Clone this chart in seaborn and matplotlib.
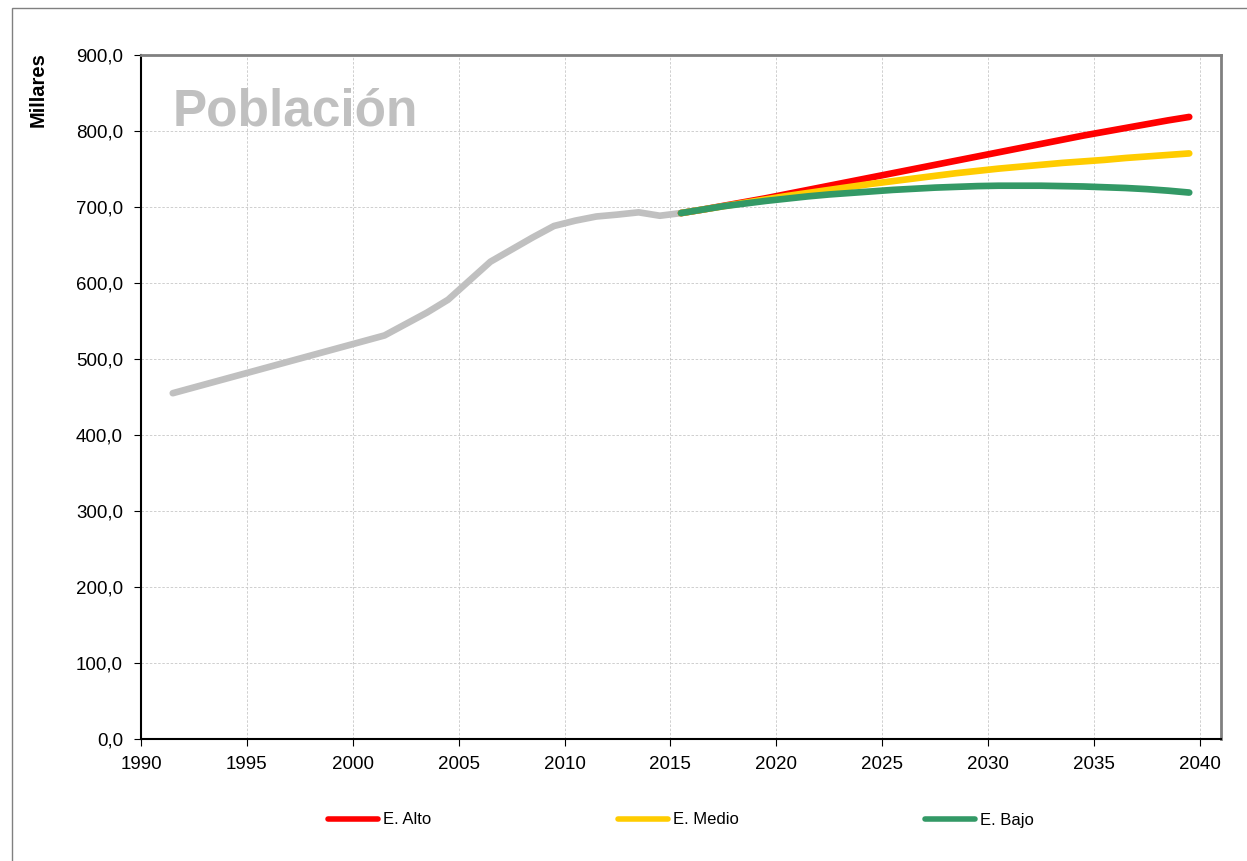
import matplotlib
matplotlib.use("Agg")
import matplotlib.pyplot as plt
import seaborn as sns
from matplotlib.ticker import FuncFormatter, MultipleLocator
from matplotlib.patches import Rectangle

# historic population (thousands)
hist_years = [1991.5, 1996.5, 2001.5, 2002.5, 2003.5, 2004.5, 2005.5, 2006.5, 2007.5,
              2008.5, 2009.5, 2010.5, 2011.5, 2012.5, 2013.5, 2014.5, 2015.5]
hist_pop = [455, 493, 531, 546, 561, 578, 603, 628, 644,
            660, 675, 682, 687.5, 690, 693, 688.5, 692]

# projections 2015.5 .. 2039.5
proj_years = [2015.5, 2016.5, 2017.5, 2018.5, 2019.5, 2020.5, 2021.5, 2022.5, 2023.5,
              2024.5, 2025.5, 2026.5, 2027.5, 2028.5, 2029.5, 2030.5, 2031.5, 2032.5,
              2033.5, 2034.5, 2035.5, 2036.5, 2037.5, 2038.5, 2039.5]
alto = [692, 696.5, 701.5, 706.5, 711.5, 717, 722.5, 728, 733.5, 739, 744.5, 750, 755.5,
        761, 766.5, 772, 777.5, 783, 788.5, 794, 799, 804, 809, 814, 818.5]
medio = [692, 696.5, 701, 705.5, 710, 714.5, 718.5, 722.5, 726.5, 730.5, 734, 737.5, 741,
         744.5, 747.5, 750.5, 753, 755.5, 758, 760, 762, 764.5, 766.5, 768.5, 770.5]
bajo = [692, 696.5, 701, 704.5, 708, 711, 714, 716.5, 718.5, 720.5, 722.5, 724, 725.5,
        726.5, 727.5, 728, 728, 728, 727.5, 727, 726, 725, 723.5, 721.5, 719]

sns.set_theme(style="white", rc={'text.color': 'black', 'xtick.color': 'black',
                                 'ytick.color': 'black', 'axes.labelcolor': 'black'})
plt.rcParams['font.family'] = ['Liberation Sans', 'DejaVu Sans']

fig = plt.figure(figsize=(12.47, 8.61), dpi=100)
ax = fig.add_axes([141/1247, 1-739/861, 1080/1247, 684/861])

lw = 4.8
sns.lineplot(x=hist_years, y=hist_pop, ax=ax, color='#C0C0C0', lw=lw,
             solid_capstyle='round', sort=False)
sns.lineplot(x=proj_years, y=alto, ax=ax, color='#FF0000', lw=lw,
             solid_capstyle='round', sort=False, label='E. Alto')
sns.lineplot(x=proj_years, y=medio, ax=ax, color='#FFCC00', lw=lw,
             solid_capstyle='round', sort=False, label='E. Medio')
sns.lineplot(x=proj_years, y=bajo, ax=ax, color='#339966', lw=lw,
             solid_capstyle='round', sort=False, label='E. Bajo')

ax.set_xlim(1990, 2041)
ax.set_ylim(0, 900)
ax.xaxis.set_major_locator(MultipleLocator(5))
ax.yaxis.set_major_locator(MultipleLocator(100))
ax.yaxis.set_major_formatter(FuncFormatter(lambda v, p: f"{v:.1f}".replace('.', ',')))
ax.set_xlabel('')
ax.set_ylabel('')
ax.grid(True, color='#C8C8C8', linestyle=(0, (3, 2)), linewidth=0.6)
ax.tick_params(axis='both', which='major', labelsize=13.5, length=5, width=0.8,
               colors='black', direction='out', left=True, bottom=True)
ax.tick_params(axis='y', pad=8)
ax.tick_params(axis='x', pad=7)
for s in ['left', 'bottom']:
    ax.spines[s].set_color('black')
    ax.spines[s].set_linewidth(1.5)
for s in ['top', 'right']:
    ax.spines[s].set_color('#808080')
    ax.spines[s].set_linewidth(2)

ax.text(0.0296, 0.917, 'Población', transform=ax.transAxes, fontsize=37,
        fontweight='bold', color='#C0C0C0', ha='left', va='center')
fig.text(38/1247, 1-90/861, 'Millares', rotation=90, fontsize=14.5, fontweight='bold',
         ha='center', va='center', color='black')

leg = ax.legend(loc='center', bbox_to_anchor=(0.5, (739-820)/684), ncol=3,
                frameon=False, fontsize=12, handlelength=3.0, handletextpad=0.3,
                columnspacing=11.2)
for h in leg.get_lines():
    h.set_linewidth(4)

# outer chart border (left and top only visible)
fig.add_artist(Rectangle((12/1247, -0.1), 1.2, 1.1 - 8/861, transform=fig.transFigure,
                         fill=False, edgecolor='#808080', linewidth=1))

fig.savefig('out.png', dpi=100)
